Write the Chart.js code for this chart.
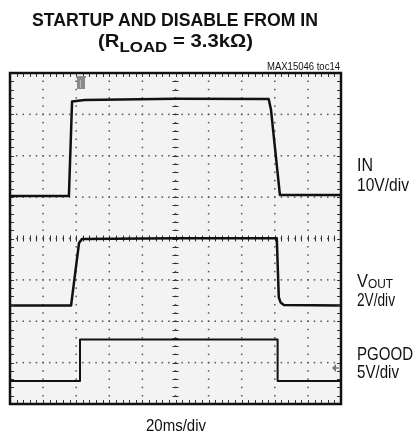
<!DOCTYPE html>
<html lang="en">

<head>
    <meta charset="UTF-8">
    <title>Startup and disable from IN</title>
    <style>
        body {
            margin: 0;
            background: white;
        }

        #wrap {
            position: relative;
            width: 414px;
            height: 435px;
            font-family: 'Liberation Sans Narrow', 'Arial Narrow', 'Liberation Sans', Arial, sans-serif;
            color: #111;
        }

        #wrap canvas {
            position: absolute;
            left: 0;
            top: 0;
        }

        .lbl {
            position: absolute;
            white-space: nowrap;
            line-height: 1;
            transform-origin: 0 0;
        }

        .sub {
            position: relative;
            top: 5px;
            font-size: 15px;
        }

        .small {
            font-size: 13px;
            position: relative;
            top: 1px;
        }
    </style>
</head>

<body>
    <div id="wrap">
        <canvas id="scope" width="414" height="435"></canvas>

        <div class="lbl" style="left:32px;top:10.8px;font-size:18px;font-weight:bold" data-w="286">STARTUP AND DISABLE FROM IN</div>
        <div class="lbl" style="left:98px;top:32.3px;font-size:18px;font-weight:bold" data-w="155">(R<span class="sub">LOAD</span> = 3.3kΩ)</div>
        <div class="lbl" style="left:267px;top:61.5px;font-size:10px" data-w="73">MAX15046 toc14</div>

        <div class="lbl" style="left:357px;top:156.3px;font-size:18px" data-w="16">IN</div>
        <div class="lbl" style="left:357px;top:176.3px;font-size:18px" data-w="52">10V/div</div>
        <div class="lbl" style="left:357px;top:271.8px;font-size:18px" data-w="36">V<span class="small">OUT</span></div>
        <div class="lbl" style="left:357px;top:290.8px;font-size:18px" data-w="38">2V/div</div>
        <div class="lbl" style="left:357px;top:344.8px;font-size:18px" data-w="56">PGOOD</div>
        <div class="lbl" style="left:357px;top:363.3px;font-size:18px" data-w="42">5V/div</div>

        <div class="lbl" style="left:146px;top:416.8px;font-size:17px" data-w="60">20ms/div</div>
    </div>

    <script src="https://cdn.jsdelivr.net/npm/chart.js"></script>
    <script>
        // screen: 10 horizontal divisions of 20ms, 8 vertical divisions
        const msPerDiv = 20;
        const vertDivs = 8;

        // IN channel, 10V/div, ground marker at 5.03 div
        const inVoltsPerDiv = 10;
        const inGroundDiv = 5.03;
        const inTime = [0, 35.6, 37.5, 45, 100, 156.3, 157.7, 163.1, 200];
        const inVolts = [0, 0, 22.8, 23.2, 23.5, 23.4, 20.8, 0.2, 0.2];

        // VOUT channel, 2V/div, ground at 2.38 div
        const outVoltsPerDiv = 2;
        const outGroundDiv = 2.38;
        const outTime = [0, 36.9, 41.7, 43.5, 100, 161.2, 162.4, 163.5, 165.5, 200];
        const outVolts = [0, 0, 3.02, 3.22, 3.25, 3.25, 0.4, 0.15, 0.03, 0];

        // PGOOD channel, 5V/div, ground at 0.556 div
        const pgVoltsPerDiv = 5;
        const pgGroundDiv = 0.556;
        const pgTime = [0, 42.3, 42.3, 161.7, 161.7, 200];
        const pgVolts = [0, 0, 5, 5, 0, 0];

        const triggerTime = 42.9;
        const triggerLevel = 1.57; // on PGOOD

        function toPoints(ts, vs) {
            return ts.map((t, i) => ({ x: t, y: vs[i] }));
        }

        function channelAxis(vpd, ground) {
            return { type: 'linear', axis: 'y', display: false, min: -ground * vpd, max: (vertDivs - ground) * vpd };
        }

        const scopePlugin = {
            id: 'scope',
            beforeDatasetsDraw(chart) {
                const { ctx, chartArea: a, scales: { x, div } } = chart;
                ctx.save();
                ctx.fillStyle = '#f3f3f3';
                ctx.fillRect(a.left, a.top, a.width, a.height);

                // dotted graticule
                ctx.fillStyle = '#555';
                for (let i = 1; i < 10; i++) {
                    const px = x.getPixelForValue(i * msPerDiv);
                    for (let j = 0; j <= vertDivs * 5; j++) {
                        const py = div.getPixelForValue(j / 5);
                        ctx.fillRect(px - 0.75, py - 0.75, 1.5, 1.5);
                    }
                }
                for (let i = 1; i < vertDivs; i++) {
                    const py = div.getPixelForValue(i);
                    for (let j = 0; j <= 50; j++) {
                        const px = x.getPixelForValue(j * msPerDiv / 5);
                        ctx.fillRect(px - 0.75, py - 0.75, 1.5, 1.5);
                    }
                }

                // centre cross with minor ticks
                const cx = x.getPixelForValue(5 * msPerDiv);
                const cy = div.getPixelForValue(vertDivs / 2);
                ctx.strokeStyle = '#333';
                ctx.lineWidth = 1;
                ctx.beginPath();
                for (let j = 1; j < vertDivs * 5; j++) {
                    const py = Math.round(div.getPixelForValue(j / 5)) + 0.5;
                    ctx.moveTo(cx - 3, py);
                    ctx.lineTo(cx + 3, py);
                }
                for (let j = 1; j < 50; j++) {
                    const px = Math.round(x.getPixelForValue(j * msPerDiv / 5)) + 0.5;
                    ctx.moveTo(px, cy - 3);
                    ctx.lineTo(px, cy + 3);
                }
                ctx.stroke();
                ctx.restore();
            },
            afterDatasetsDraw(chart) {
                const { ctx, chartArea: a, scales: { x, div, yPg } } = chart;
                ctx.save();

                // edge ticks
                ctx.strokeStyle = '#333';
                ctx.lineWidth = 1;
                ctx.beginPath();
                for (let j = 1; j < 50; j++) {
                    const px = Math.round(x.getPixelForValue(j * msPerDiv / 5)) + 0.5;
                    ctx.moveTo(px, a.top);
                    ctx.lineTo(px, a.top + 4);
                    ctx.moveTo(px, a.bottom);
                    ctx.lineTo(px, a.bottom - 4);
                }
                for (let j = 1; j < vertDivs * 5; j++) {
                    const py = Math.round(div.getPixelForValue(j / 5)) + 0.5;
                    ctx.moveTo(a.left, py);
                    ctx.lineTo(a.left + 4, py);
                    ctx.moveTo(a.right, py);
                    ctx.lineTo(a.right - 4, py);
                }
                ctx.stroke();

                // frame
                ctx.strokeStyle = '#111';
                ctx.lineWidth = 2.5;
                ctx.strokeRect(a.left, a.top, a.width, a.height);

                // trigger position marker
                const tx = x.getPixelForValue(triggerTime);
                ctx.fillStyle = '#8a8a8a';
                ctx.fillRect(tx - 4, a.top + 5, 8, 11);
                ctx.fillRect(tx - 5, a.top + 3, 10, 2);
                ctx.fillStyle = '#bbb';
                ctx.fillRect(tx - 1, a.top + 7, 1, 8);

                // trigger level arrow
                const ty = yPg.getPixelForValue(triggerLevel);
                ctx.strokeStyle = '#777';
                ctx.fillStyle = '#777';
                ctx.lineWidth = 1.5;
                ctx.beginPath();
                ctx.moveTo(a.right - 2, ty);
                ctx.lineTo(a.right - 7, ty);
                ctx.stroke();
                ctx.beginPath();
                ctx.moveTo(a.right - 9, ty);
                ctx.lineTo(a.right - 5, ty - 4);
                ctx.lineTo(a.right - 5, ty + 4);
                ctx.closePath();
                ctx.fill();
                ctx.restore();
            }
        };

        const ctx = document.getElementById('scope').getContext('2d');
        new Chart(ctx, {
            type: 'line',
            data: {
                datasets: [{
                    label: 'IN',
                    data: toPoints(inTime, inVolts),
                    yAxisID: 'yIn',
                    borderColor: '#111',
                    borderWidth: 2.5
                }, {
                    label: 'VOUT',
                    data: toPoints(outTime, outVolts),
                    yAxisID: 'yOut',
                    borderColor: '#111',
                    borderWidth: 2.5
                }, {
                    label: 'PGOOD',
                    data: toPoints(pgTime, pgVolts),
                    yAxisID: 'yPg',
                    borderColor: '#111',
                    borderWidth: 2
                }]
            },
            options: {
                responsive: false,
                animation: false,
                events: [],
                layout: { padding: { left: 10, top: 73, right: 73, bottom: 31 } },
                elements: {
                    point: { radius: 0 },
                    line: { tension: 0, borderJoinStyle: 'round' }
                },
                plugins: {
                    legend: { display: false },
                    tooltip: { enabled: false }
                },
                scales: {
                    x: { type: 'linear', display: false, min: 0, max: 10 * msPerDiv },
                    div: { type: 'linear', axis: 'y', display: false, min: 0, max: vertDivs },
                    yIn: channelAxis(inVoltsPerDiv, inGroundDiv),
                    yOut: channelAxis(outVoltsPerDiv, outGroundDiv),
                    yPg: channelAxis(pgVoltsPerDiv, pgGroundDiv)
                }
            },
            plugins: [scopePlugin]
        });

        // squeeze labels to the widths of the original lettering
        function fitLabels() {
            document.querySelectorAll('.lbl[data-w]').forEach(el => {
                el.style.transform = 'none';
                const w = el.getBoundingClientRect().width;
                if (w > 0) el.style.transform = `scaleX(${parseFloat(el.dataset.w) / w})`;
            });
        }
        fitLabels();
        if (document.fonts) document.fonts.ready.then(fitLabels);
    </script>
</body>

</html>
